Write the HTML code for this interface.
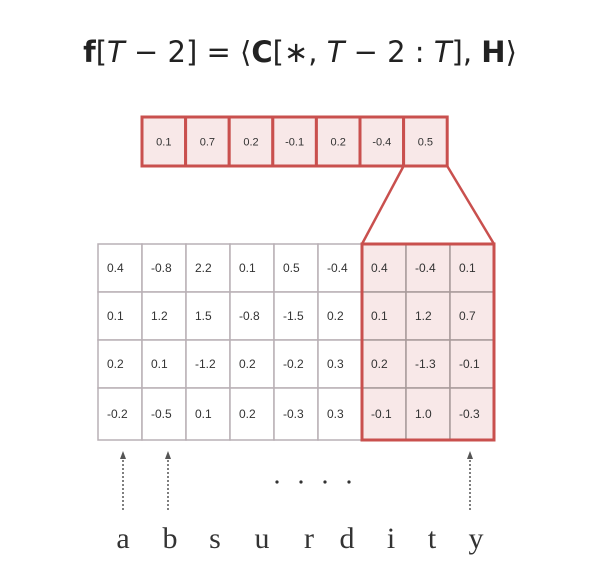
<!DOCTYPE html>
<html><head><meta charset="utf-8"><style>
body{margin:0;background:#fff;width:600px;height:585px;overflow:hidden}
svg{display:block}
</style></head><body>
<svg id="c" width="600" height="585" xmlns="http://www.w3.org/2000/svg">
<text x="300" y="62" text-anchor="middle" font-family="'DejaVu Sans',sans-serif" font-size="29" fill="#222"><tspan font-weight="bold">f</tspan>[<tspan font-style="italic">T</tspan> − 2] = ⟨<tspan font-weight="bold">C</tspan>[∗, <tspan font-style="italic">T</tspan> − 2 : <tspan font-style="italic">T</tspan>], <tspan font-weight="bold">H</tspan>⟩</text>
<g id="g"></g>
</svg>
<script>
const vec=["0.1","0.7","0.2","-0.1","0.2","-0.4","0.5"];
const mat=[["0.4","-0.8","2.2","0.1","0.5","-0.4","0.4","-0.4","0.1"],
["0.1","1.2","1.5","-0.8","-1.5","0.2","0.1","1.2","0.7"],
["0.2","0.1","-1.2","0.2","-0.2","0.3","0.2","-1.3","-0.1"],
["-0.2","-0.5","0.1","0.2","-0.3","0.3","-0.1","1.0","-0.3"]];
const letters=["a","b","s","u","r","d","i","t","y"];
const arrowCols=[0,1,8];
const NS="http://www.w3.org/2000/svg",g=document.getElementById('g');
function el(t,a,txt){const e=document.createElementNS(NS,t);for(const k in a)e.setAttribute(k,a[k]);if(txt!=null)e.textContent=txt;g.appendChild(e);return e;}
const red="#c9504e",pink="#f8e8e8";
const vx=142,vy=117,vw=43.6,vh=49;
vec.forEach((v,i)=>{
 const r=el('rect',{x:vx+i*vw,y:vy,width:vw,height:vh,fill:pink,stroke:red,'stroke-width':3});
 
 const t=el('text',{x:vx+i*vw+vw/2,y:vy+vh/2+4,'text-anchor':'middle','font-family':'Liberation Sans, sans-serif','font-size':11,fill:'#333'},v);
 
});
const mx=98,my=244,cw=44,rh=[48,48,48,52];
let ys=[my];rh.forEach(h=>ys.push(ys[ys.length-1]+h));
mat.forEach((row,r)=>row.forEach((v,c)=>{
 const hi=c>=6;
 const re=el('rect',{x:mx+c*cw,y:ys[r],width:cw,height:rh[r],fill:hi?pink:'#fff',stroke:hi?'#a89a9a':'#b9b0b5','stroke-width':1.5});
 
 const t=el('text',{x:mx+c*cw+9,y:ys[r]+rh[r]/2+4,'font-family':'Liberation Sans, sans-serif','font-size':12,fill:'#333'},v);
 
}));
const hb=el('rect',{x:mx+6*cw,y:my,width:3*cw,height:ys[4]-my,fill:'none',stroke:red,'stroke-width':3});

const l1=el('line',{x1:vx+6*vw,y1:vy+vh,x2:mx+6*cw,y2:my,stroke:red,'stroke-width':2.5});

const l2=el('line',{x1:vx+7*vw,y1:vy+vh,x2:mx+9*cw,y2:my,stroke:red,'stroke-width':2.5});

const lx=[123,170,215,262,309,347,391,432,476];
letters.forEach((L,i)=>{
 const t=el('text',{x:lx[i],y:548,'text-anchor':'middle','font-family':'Liberation Serif, serif','font-size':30,fill:'#333'},L);
 
});
const ax=[123,168,470];
arrowCols.forEach((c,k)=>{
 const x=ax[k];
 const a=el('line',{x1:x,y1:510,x2:x,y2:458,stroke:'#555','stroke-width':1.5,'stroke-dasharray':'2,2'});
 
 const h=el('polygon',{points:`${x-3},459 ${x+3},459 ${x},451`,fill:'#555'});
 
});
[277,301,325,349].forEach(x=>{
 const d=el('circle',{cx:x,cy:482,r:1.6,fill:'#333'});
 
});
</script>
</body></html>
